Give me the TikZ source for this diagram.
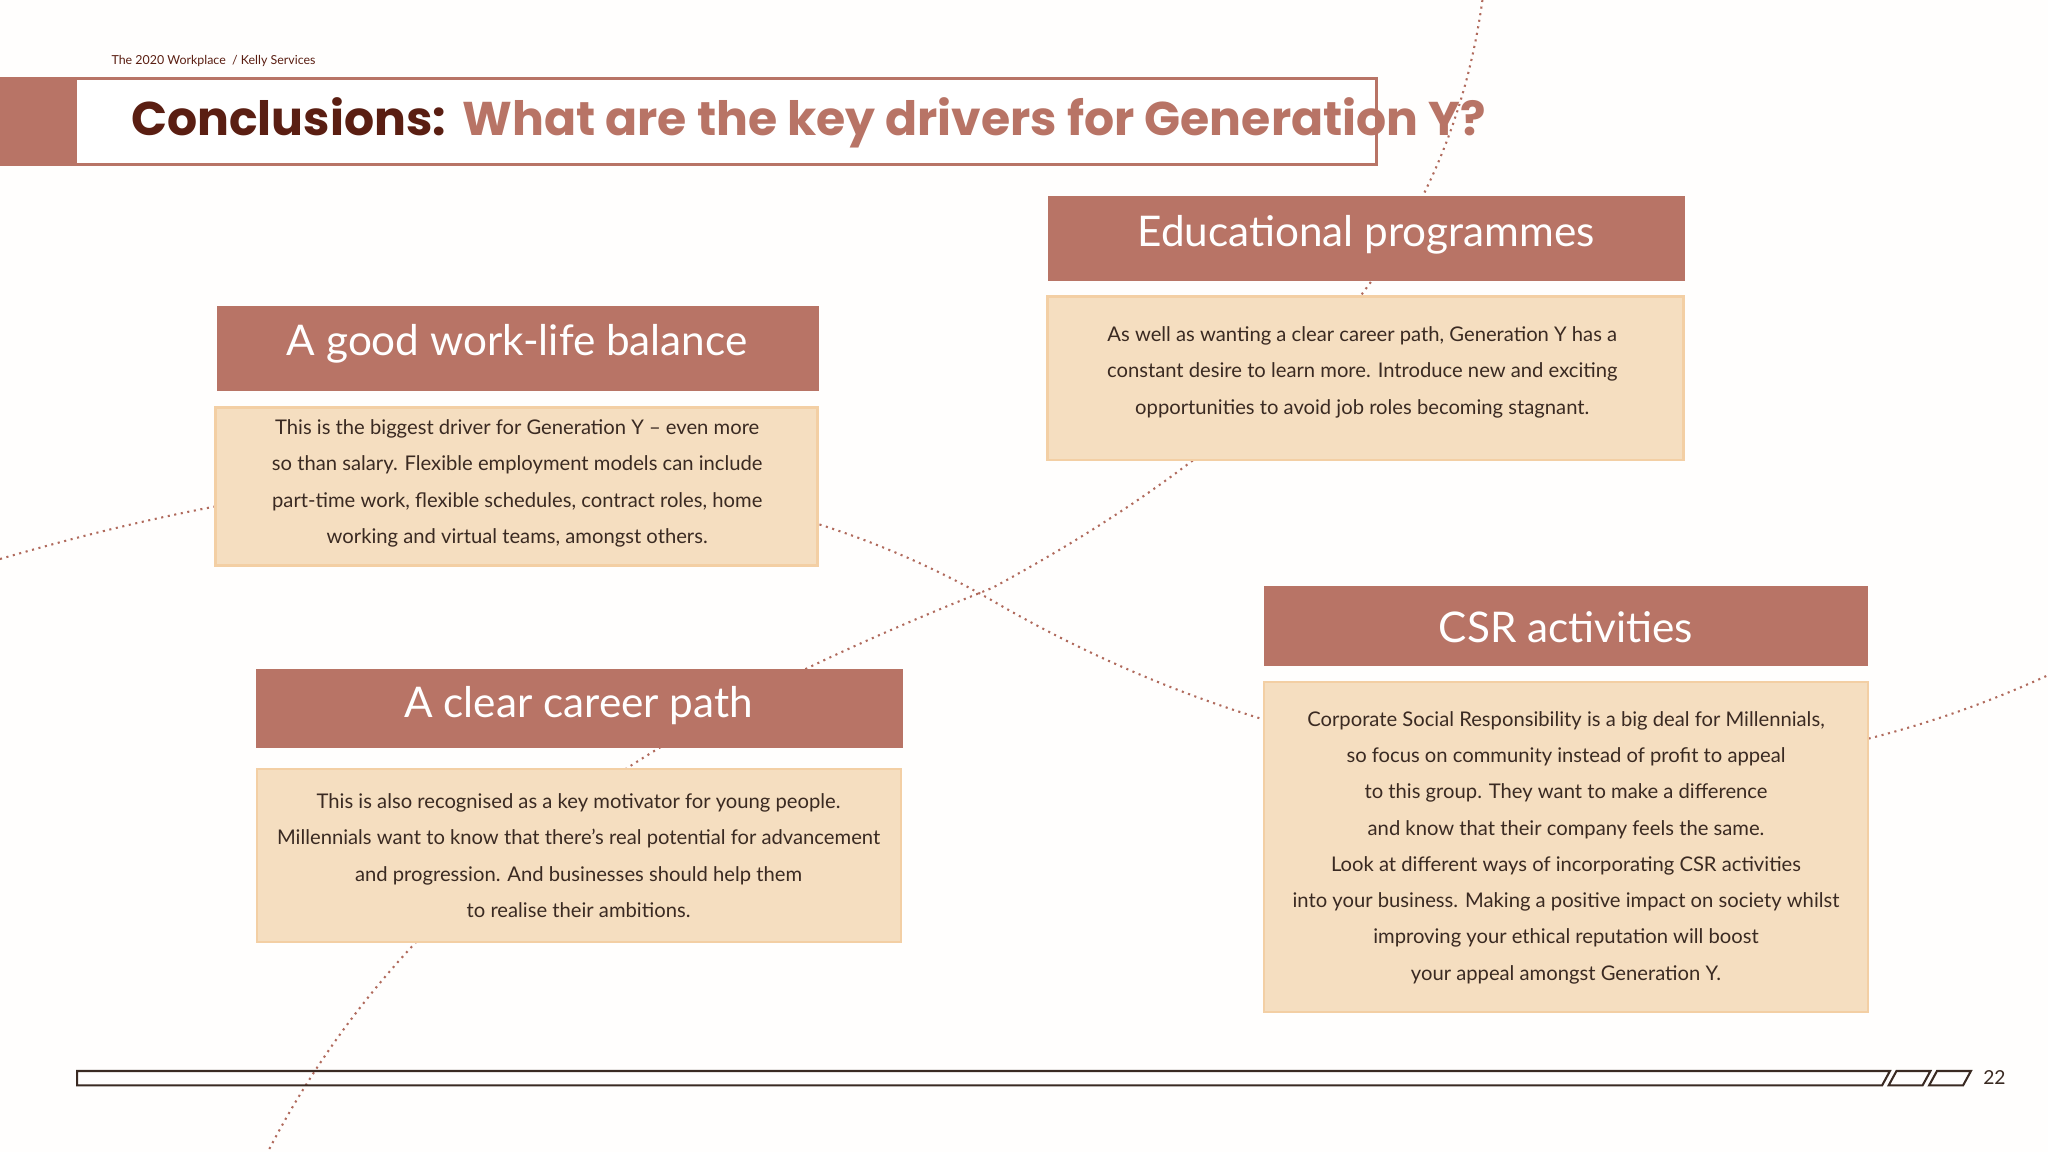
\documentclass[tikz,border=0pt]{standalone}
\usepackage{fontspec}
\setmainfont{Lato}
\newfontfamily\titlefont{Poppins}
\definecolor{hdr}{HTML}{B87466}
\definecolor{boxf}{HTML}{F5DEC0}
\definecolor{boxb}{HTML}{F3CFA4}
\definecolor{dark}{HTML}{5A1E12}
\definecolor{txt}{HTML}{3A2A22}
\definecolor{dots}{HTML}{B06A5C}
\begin{document}
\begin{tikzpicture}[x=0.01cm,y=-0.01cm,
  hbox/.style={fill=hdr,draw=none,text=white,font=\fontsize{9.2}{11}\selectfont},
  tbox/.style={fill=boxf,draw=boxb,line width=0.5pt},
  body/.style={text=txt,font=\fontsize{4.4}{7.9}\selectfont,align=center},
  dline/.style={dots,densely dotted,line width=0.45pt}]
\useasboundingbox (0,0) rectangle (1568,882);
\fill[white!97!boxf] (0,0) rectangle (1568,882);
% dotted curves
\draw[dline] (1135,0) .. controls (1110,180) and (1000,320) .. (760,450) .. controls (560,530) and (330,640) .. (205,882);
\draw[dline] (0,428) .. controls (200,370) and (500,310) .. (760,460) .. controls (1000,600) and (1300,640) .. (1568,517);
% header
\node[font=\fontsize{2.7}{3}\selectfont,text=dark,anchor=west] (top) at (73,47) {The 2020 Workplace~~/~Kelly Services};
\fill[hdr] (0,59) rectangle (58,127);
\draw[hdr,line width=0.6pt,fill=white] (58,60) rectangle (1054,126);
\node[anchor=west,font=\titlefont\bfseries\fontsize{10.3}{12}\selectfont] (title) at (88,94) {\textcolor{dark}{Conclusions:}\hspace{0.35em}\textcolor{hdr}{What are the key drivers for Generation Y?}};
% work-life
\fill[hdr] (166,234) rectangle (627,299);
\node[hbox] (h1) at (396,263) {A good work-life balance};
\draw[tbox] (165,312) rectangle (626,433);
\node[body] (b1) at (396,370) {This is the biggest driver for Generation Y -- even more\\so than salary. Flexible employment models can include\\part-time work, flexible schedules, contract roles, home\\working and virtual teams, amongst others.};
% education
\fill[hdr] (802,150) rectangle (1290,215);
\node[hbox] (h2) at (1046,180) {Educational programmes};
\draw[tbox] (802,227) rectangle (1289,352);
\node[body] (b2) at (1043,285) {As well as wanting a clear career path, Generation Y has a\\constant desire to learn more. Introduce new and exciting\\opportunities to avoid job roles becoming stagnant.};
% career
\fill[hdr] (196,512) rectangle (691,573);
\node[hbox] (h3) at (443,540) {A clear career path};
\draw[tbox] (197,589) rectangle (690,721);
\node[body] (b3) at (443,655) {This is also recognised as a key motivator for young people.\\Millennials want to know that there's real potential for advancement\\and progression. And businesses should help them\\to realise their ambitions.};
% CSR
\fill[hdr] (968,449) rectangle (1430,510);
\node[hbox] (h4) at (1199,480) {CSR activities};
\draw[tbox] (968,522) rectangle (1430,775);
\node[body] (b4) at (1199,649) {Corporate Social Responsibility is a big deal for Millennials,\\so focus on community instead of profit to appeal\\to this group. They want to make a difference\\and know that their company feels the same.\\Look at different ways of incorporating CSR activities\\into your business. Making a positive impact on society whilst\\improving your ethical reputation will boost\\your appeal amongst Generation Y.};
% footer
\draw[txt,line width=0.45pt] (59,820) -- (1447,820) -- (1441,831) -- (59,831) -- cycle;
\draw[txt,line width=0.45pt] (1452,820) -- (1478,820) -- (1472,831) -- (1446,831) -- cycle;
\draw[txt,line width=0.45pt] (1483,820) -- (1509,820) -- (1503,831) -- (1477,831) -- cycle;
\node[text=txt,font=\fontsize{4.2}{5}\selectfont] (pg) at (1527,825) {22};
\end{tikzpicture}
\end{document}
